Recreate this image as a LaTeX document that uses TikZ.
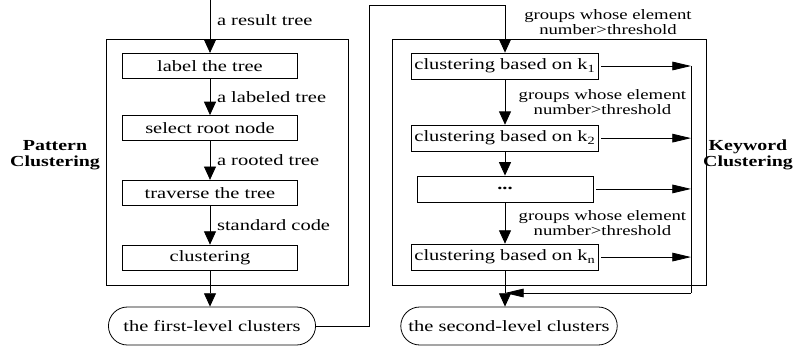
\documentclass[tikz,border=0pt]{standalone}
\usepackage{fontspec}
\setmainfont[FakeStretch=1.3]{Liberation Serif}
\usepackage{tikz}
\usetikzlibrary{arrows.meta, positioning, shapes.misc}
\tikzset{
  stepbox/.style={
    draw, rectangle, line width=0.6pt,
    minimum width=131pt, minimum height=19pt,
    inner sep=1pt, font=\fontsize{11.8}{13}\selectfont
  },
  kbox/.style={stepbox, minimum width=140pt, minimum height=19.5pt},
  term/.style={
    draw, rounded rectangle, line width=0.6pt,
    minimum height=28.5pt, font=\fontsize{11.8}{13}\selectfont
  },
  panel/.style={draw, line width=0.6pt},
  varr/.style={-{Triangle[length=10pt,width=9pt]}, line width=0.6pt},
  harr/.style={-{Triangle[length=14pt,width=6.5pt]}, line width=0.6pt,
    shorten <=2pt},
  lbl/.style={font=\fontsize{11.8}{13}\selectfont, inner sep=2pt},
  grp/.style={align=center, inner sep=0pt,
    font=\fontsize{10.8}{11.5}\selectfont},
  side/.style={align=center, font=\bfseries\fontsize{11.5}{12}\selectfont}
}

\begin{document}
\begin{tikzpicture}[x=0.75pt, y=-0.75pt]
  \useasboundingbox (0,0) rectangle (810,346);
  % pattern clustering
  \node[stepbox] (label) at (210,66) {label the tree};
  \node[stepbox, below=27pt of label] (root) {select root node};
  \node[stepbox, below=29pt of root]  (trav) {traverse the tree};
  \node[stepbox, below=29pt of trav]  (clus) {clustering};
  \node[term, minimum width=162pt] (first) at (212,326) {the first-level clusters};
  \draw[panel] (106,39) rectangle (348,285);
  \node[side] (pat) at (55,155) {Pattern\\Clustering};
  \coordinate (in) at (210,0);
  \draw[varr] (in) -- node[lbl, right, pos=0.38, xshift=3pt]{a result tree} (label);
  \draw[varr] (label) -- node[lbl, right, xshift=3pt]{a labeled tree} (root);
  \draw[varr] (root) -- node[lbl, right, xshift=3pt]{a rooted tree} (trav);
  \draw[varr] (trav) -- node[lbl, right, xshift=3pt]{standard code} (clus);
  \draw[varr] (clus.south) -- (clus.south |- first.north);

  % keyword clustering
  \node[kbox] (k1) at (505,66) {clustering based on k\textsubscript{1}};
  \node[kbox, below=34pt of k1] (k2) {clustering based on k\textsubscript{2}};
  \node[kbox, minimum width=132pt, below=18pt of k2] (kdots) {\bfseries ...};
  \node[kbox, below=31pt of kdots] (kn) {clustering based on k\textsubscript{n}};
  \node[term, minimum width=169pt] (second) at (509,326) {the second-level clusters};
  \draw[panel] (392,39) rectangle (706,285);
  \node[side] (key) at (748,155) {Keyword\\Clustering};
  \coordinate (bend) at (369,5);
  \coordinate (rjoin) at (691,293);
  \draw[varr] (first.east) -| (bend) -| (k1.north);
  \node[grp, anchor=west] (g0) at (524,22) {groups whose element\\number>threshold};
  \draw[varr] (k1) -- node[grp, right, xshift=10pt]{groups whose element\\number>threshold} (k2);
  \draw[varr] (k2) -- (kdots);
  \draw[varr] (kdots) -- node[grp, right, xshift=10pt]{groups whose element\\number>threshold} (kn);
  \foreach \b in {k1,k2,kdots,kn}
    \draw[harr] (\b.east) -- (\b.east -| rjoin);
  \draw[line width=0.6pt] (k1.east -| rjoin) -- (rjoin);
  \draw[harr, shorten <=0pt] (rjoin) -- (rjoin -| kn.south);
  \draw[varr] (kn.south) -- (kn.south |- second.north);
\end{tikzpicture}
\end{document}
